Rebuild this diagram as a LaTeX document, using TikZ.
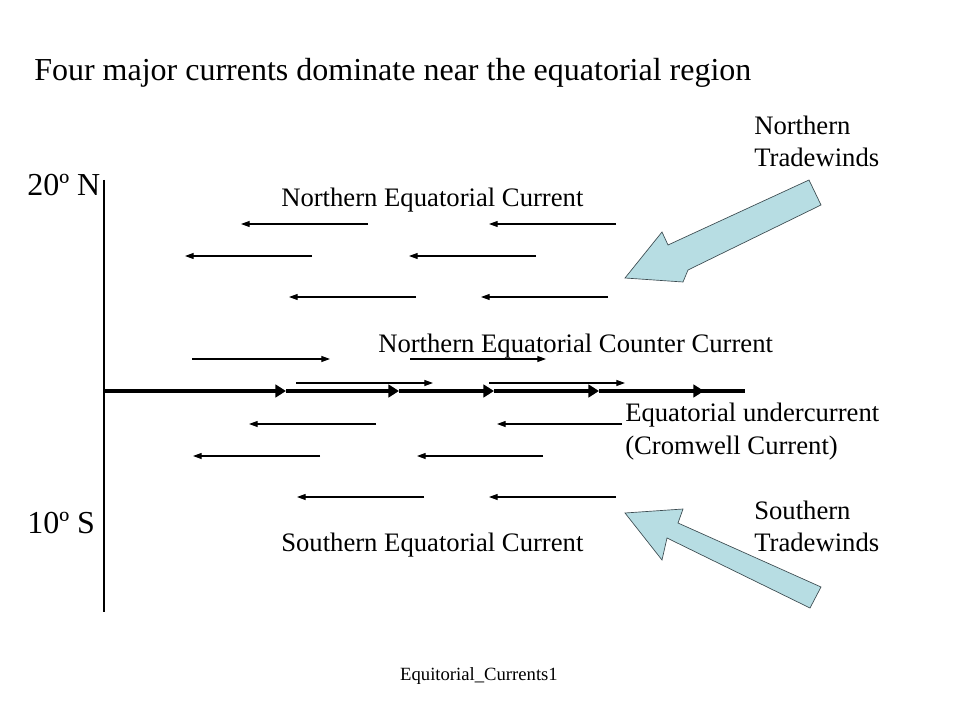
\documentclass[tikz,border=0pt]{standalone}
\usepackage{fontspec}
\setmainfont{Liberation Serif}
\usetikzlibrary{arrows.meta}
\definecolor{windfill}{RGB}{183,221,227}
\definecolor{windedge}{RGB}{60,75,80}
\tikzset{
  current/.style={line width=0.8pt,-{Triangle[length=6.5pt,width=4.5pt]}},
  equator/.style={line width=2.4pt},
  eqhead/.style={-{Triangle[length=8pt,width=9.5pt]}},
  wind/.style={fill=windfill,draw=windedge,line width=0.5pt,line join=miter},
  label/.style={font=\fontsize{20pt}{24pt}\selectfont,inner sep=0pt,align=left}
}
\begin{document}
\begin{tikzpicture}[x=0.75pt,y=-0.75pt]
\useasboundingbox (0,0) rectangle (960,720);
% title and axis
\node[font=\fontsize{24pt}{28pt}\selectfont,inner sep=0pt,anchor=base west] (title) at (34,81) {Four major currents dominate near the equatorial region};
\draw[line width=2pt] (104,180) -- (104,612);
\node[font=\fontsize{24pt}{28pt}\selectfont,inner sep=0pt,anchor=base west] (north) at (27,196) {20º N};
\node[font=\fontsize{24pt}{28pt}\selectfont,inner sep=0pt,anchor=base west] (south) at (27,533) {10º S};
% equator with undercurrent
\foreach \a/\b in {105/286,286/399,399/494,494/599,599/704}
  \draw[equator,eqhead] (\a,391) -- (\b,391);
\draw[equator] (700,391) -- (745,391);
% westward currents
\foreach \s/\e/\y in {368/241/224,616/489/224,312/185/256,536/409/256,416/289/297,608/481/297,
                      376/249/424,622/497/424,320/193/456,543/417/456,424/297/497,616/489/497}
  \draw[current] (\s,\y) -- (\e,\y);
% eastward counter current
\foreach \s/\e/\y in {192/330/359,410/546/359,296/433/383,489/625/383}
  \draw[current] (\s,\y) -- (\e,\y);
% labels
\node[label,anchor=base west] (nec) at (281,207) {Northern Equatorial Current};
\node[label,anchor=base west] (necc) at (378,352) {Northern Equatorial Counter Current};
\node[label,anchor=base west] (euc) at (625,421) {Equatorial undercurrent};
\node[label,anchor=base west] (cc) at (625,454) {(Cromwell Current)};
\node[label,anchor=base west] (sec) at (281,551) {Southern Equatorial Current};
\node[label,anchor=base west] (ntw) at (754,167) {Northern\\Tradewinds};
\node[label,anchor=base west] (stw) at (754,551) {Southern\\Tradewinds};
% tradewinds
\draw[wind] (809,180) -- (821,205) -- (688,270) -- (683,282) -- (625,278) -- (662,232) -- (668,245) -- cycle;
\draw[wind] (810,608) -- (821,587) -- (678,523) -- (683,509) -- (625,513) -- (662,560) -- (667,538) -- cycle;
% footer
\node[font=\fontsize{14pt}{16pt}\selectfont,inner sep=0pt,anchor=base] (foot) at (479,680) {Equitorial\_Currents1};
\end{tikzpicture}
\end{document}
